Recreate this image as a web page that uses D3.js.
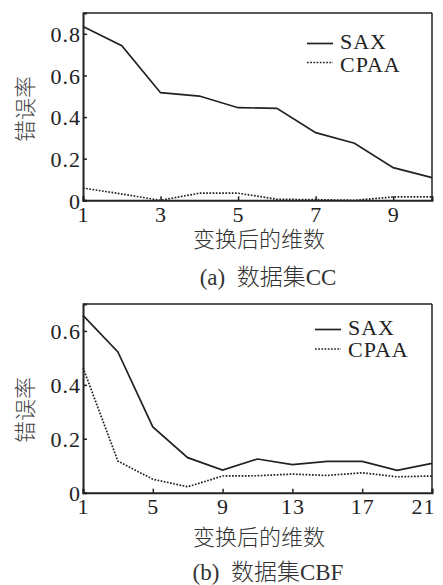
<!DOCTYPE html>
<html><head><meta charset="utf-8">
<script src="https://cdn.jsdelivr.net/npm/d3@7/dist/d3.min.js"></script>
<style>
html,body{margin:0;padding:0;background:#fff;}
svg{display:block;}
</style></head><body>
<svg id="c" width="443" height="585"></svg>
<script>
// Chart (a): dataset CC
const xA = [1,2,3,4,5,6,7,8,9,10];
const saxA = [0.835,0.743,0.517,0.501,0.445,0.442,0.325,0.274,0.157,0.109];
const cpaaA = [0.059,0.030,0.000,0.034,0.034,0.005,0.003,0.000,0.016,0.016];
const xTicksA = [1,3,5,7,9];
const yTicksA = [0,0.2,0.4,0.6,0.8];
// Chart (b): dataset CBF
const xB = [1,3,5,7,9,11,13,15,17,19,21];
const saxB = [0.658,0.522,0.244,0.130,0.084,0.125,0.104,0.116,0.116,0.083,0.109];
const cpaaB = [0.464,0.117,0.050,0.022,0.062,0.063,0.069,0.064,0.074,0.059,0.062];
const xTicksB = [1,5,9,13,17,21];
const yTicksB = [0,0.2,0.4,0.6];
const seriesNames = ["SAX","CPAA"];
const yLabel = "错误率";
const xLabel = "变换后的维数";
const captions = ["(a)  数据集CC","(b)  数据集CBF"];

const SERIF = '"Liberation Serif","Noto Sans CJK SC",serif';
const CJK = '"Noto Sans CJK SC",sans-serif';
const svg = d3.select("#c");

function panel(cfg){
  const g = svg.append("g");
  const x = d3.scaleLinear().domain(cfg.xDomain).range([83,432]);
  const y = d3.scaleLinear().domain(cfg.yDomain).range([cfg.bottom,cfg.top]);
  g.append("line").attr("x1",83).attr("x2",432).attr("y1",cfg.top).attr("y2",cfg.top).attr("stroke","#222").attr("stroke-width",1.5);
  g.append("line").attr("x1",432).attr("x2",432).attr("y1",cfg.top).attr("y2",cfg.bottom).attr("stroke","#222").attr("stroke-width",1.5);
  const xa = g.append("g").attr("transform",`translate(0,${cfg.bottom})`)
    .call(d3.axisBottom(x).tickValues(cfg.xTicks).tickSize(-4).tickPadding(6).tickFormat(d3.format("d")));
  const ya = g.append("g").attr("transform",`translate(83,0)`)
    .call(d3.axisLeft(y).tickValues(cfg.yTicks).tickSize(-4).tickPadding(2).tickFormat(d=>d===0?"0":d3.format(".1f")(d)));
  [xa,ya].forEach(a=>{
    a.select(".domain").attr("stroke","#222").attr("stroke-width",2);
    a.selectAll(".tick line").attr("stroke","#222").attr("stroke-width",1.5);
    a.selectAll("text").style("font-size","22px").style("font-family",SERIF).style("letter-spacing","1px").attr("fill","#222");
  });
  ya.selectAll("text").attr("dy","0.35em");
  xa.selectAll("text").attr("dy","0.71em");
  // keep the last x tick label inside the picture, as the reference does
  xa.selectAll(".tick text").filter(d=>d===cfg.xDomain[1] && d>=20).attr("dx",-9);
  const line = d3.line().x((d,i)=>x(cfg.xs[i])).y(d=>y(d));
  g.append("path").datum(cfg.sax).attr("d",line).attr("fill","none").attr("stroke","#222").attr("stroke-width",1.7);
  g.append("path").datum(cfg.cpaa).attr("d",line).attr("fill","none").attr("stroke","#222").attr("stroke-width",1.7).attr("stroke-dasharray","1.7,1.5");
  cfg.legend.forEach((L,i)=>{
    g.append("line").attr("x1",L.x1).attr("x2",L.x1+26).attr("y1",L.ly).attr("y2",L.ly)
      .attr("stroke","#222").attr("stroke-width",1.7).attr("stroke-dasharray",i===1?"1.7,1.5":null);
    g.append("text").attr("x",L.x1+33).attr("y",L.ty).style("font-size","22px").style("font-family",SERIF)
      .style("letter-spacing","1px").attr("fill","#222").text(seriesNames[i]);
  });
  g.append("text").attr("transform",`translate(33,${cfg.ylabelY}) rotate(-90)`).attr("text-anchor","middle")
    .style("font-size","22px").style("font-family",CJK).style("font-weight","300").attr("fill","#444").text(yLabel);
  g.append("text").attr("x",259).attr("y",cfg.xlabelY).attr("text-anchor","middle")
    .style("font-size","22px").style("font-family",CJK).style("font-weight","300").attr("fill","#333").text(xLabel);
  g.append("text").attr("x",cfg.capX).attr("y",cfg.capY).attr("text-anchor","middle")
    .style("font-size","23px").style("font-family",SERIF).style("font-weight","300").attr("fill","#333")
    .attr("xml:space","preserve").style("white-space","pre").text(cfg.caption);
}

panel({xDomain:[1,10],yDomain:[0,0.9],top:13,bottom:200.3,xs:xA,sax:saxA,cpaa:cpaaA,
  xTicks:xTicksA,yTicks:yTicksA,
  legend:[{x1:307,ly:43.5,ty:49},{x1:307,ly:62.5,ty:72}],
  ylabelY:109,xlabelY:247,capX:268,capY:285,caption:captions[0]});
panel({xDomain:[1,21],yDomain:[0,0.7],top:304,bottom:492.7,xs:xB,sax:saxB,cpaa:cpaaB,
  xTicks:xTicksB,yTicks:yTicksB,
  legend:[{x1:315,ly:329.5,ty:335},{x1:315,ly:349,ty:357}],
  ylabelY:410,xlabelY:545,capX:268,capY:580,caption:captions[1]});
</script></body></html>
